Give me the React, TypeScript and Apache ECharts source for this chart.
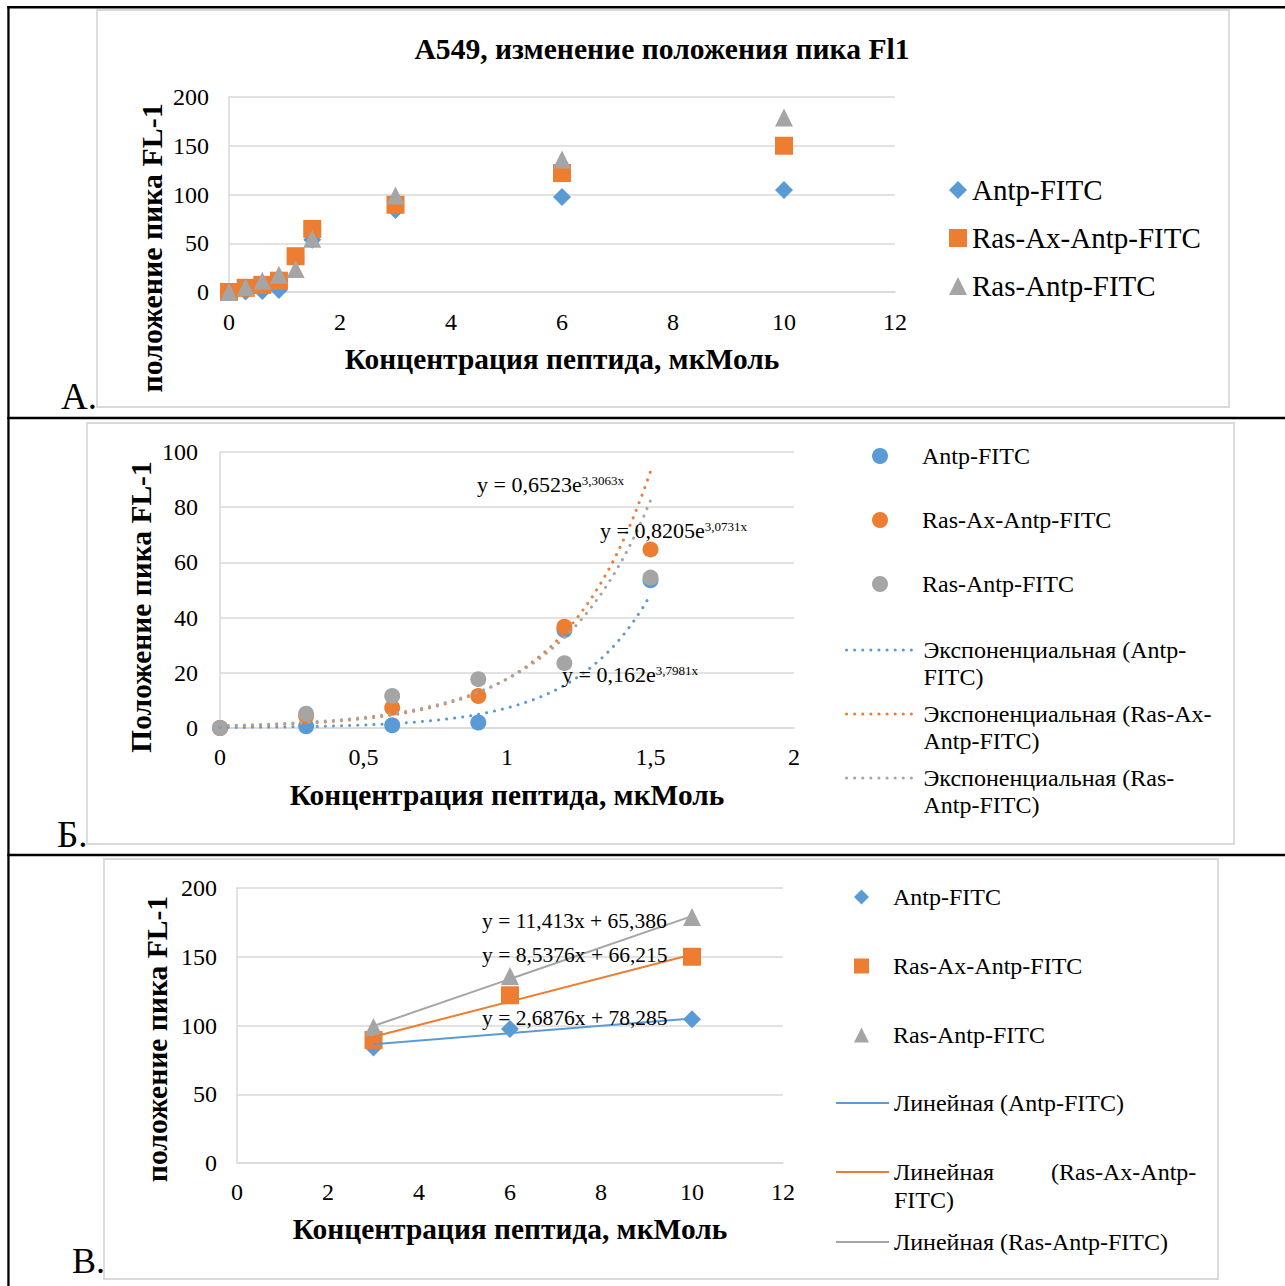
import React, { useEffect, useRef } from 'react';
import * as echarts from 'echarts';

const FONT = '"Liberation Serif", "Times New Roman", serif';
const BLUE = '#5b9bd5';
const ORANGE = '#ed7d31';
const GRAY = '#a5a5a5';
const GRID = '#d9d9d9';

// ---------- data ----------
const seriesNames = ['Antp-FITC', 'Ras-Ax-Antp-FITC', 'Ras-Antp-FITC'];
const concentration = [0, 0.3, 0.6, 0.9, 1.2, 1.5, 3, 6, 10];
const antpFitc = [0, 0.6, 1, 2, 35.5, 53.5, 84, 97.5, 104.5];
const rasAxAntpFitc = [0, 4.3, 7.3, 11.6, 36.7, 64.7, 89.5, 122, 150];
const rasAntpFitc = [0, 5.2, 11.6, 17.7, 23.5, 54.5, 99, 136, 179];

// exponential trendlines (panel Б): y = a * e^(b x)
const expA = [0.162, 0.6523, 0.8205];
const expB = [3.7981, 3.3063, 3.0731];
const expMain = ['y = 0,162e', 'y = 0,6523e', 'y = 0,8205e'];
const expSup = ['3,7981x', '3,3063x', '3,0731x'];
const expNames = ['Экспоненциальная (Antp-FITC)', 'Экспоненциальная (Ras-Ax-Antp-FITC)', 'Экспоненциальная (Ras-Antp-FITC)'];
const expLegendLines = [
  ['Экспоненциальная (Antp-', 'FITC)'],
  ['Экспоненциальная (Ras-Ax-', 'Antp-FITC)'],
  ['Экспоненциальная (Ras-', 'Antp-FITC)'],
];

// linear trendlines (panel В): y = k x + c
const linSlope = [2.6876, 8.5376, 11.413];
const linIntercept = [78.285, 66.215, 65.386];
const linText = ['y = 2,6876x + 78,285', 'y = 8,5376x + 66,215', 'y = 11,413x + 65,386'];
const linNames = ['Линейная (Antp-FITC)', 'Линейная (Ras-Ax-Antp-FITC)', 'Линейная (Ras-Antp-FITC)'];

const colors = [BLUE, ORANGE, GRAY];
const values = [antpFitc, rasAxAntpFitc, rasAntpFitc];

// ---------- helpers ----------
const pairs = (xs: number[], ys: number[]) => xs.map((x, i) => [x, ys[i]]);

function xAx(min: number, max: number, interval: number, margin: number, formatter?: any) {
  const ax: any = {
    type: 'value', min, max, interval,
    axisLine: { show: true, onZero: false, lineStyle: { color: GRID, width: 1.5 } },
    axisTick: { show: false },
    splitLine: { show: false },
    axisLabel: { color: '#000', fontFamily: FONT, fontSize: 24, margin },
  };
  if (formatter) ax.axisLabel.formatter = formatter;
  return ax;
}
function yAx(min: number, max: number, interval: number, margin: number) {
  return {
    type: 'value', min, max, interval,
    axisLine: { show: true, lineStyle: { color: GRID, width: 1.5 } },
    axisTick: { show: false },
    splitLine: { show: true, lineStyle: { color: GRID, width: 1.5 } },
    axisLabel: { color: '#000', fontFamily: FONT, fontSize: 24, margin },
  };
}
function txt(x: number, y: number, text: string, fontSize: number, o: any = {}) {
  return {
    type: 'text', x, y, rotation: o.rotation || 0, silent: true, z: 10,
    style: {
      text, fontSize, fontFamily: FONT, fontWeight: o.bold ? 'bold' : 'normal', fill: '#000',
      align: o.align || 'center', verticalAlign: 'middle',
    },
  };
}
function box(x: number, y: number, w: number, h: number) {
  return { type: 'rect', silent: true, z: -1, shape: { x, y, width: w, height: h }, style: { fill: 'none', stroke: GRID, lineWidth: 1.8 } };
}
function bar(x: number, y: number, w: number, h: number) {
  return { type: 'rect', silent: true, shape: { x, y, width: w, height: h }, style: { fill: '#000' } };
}
function eq(x: number, y: number, main: string, sup: string | null, fs: number) {
  return {
    type: 'text', x, y, silent: true, z: 10,
    style: {
      text: sup ? `{m|${main}}{s|${sup}}` : `{m|${main}}`,
      align: 'left', verticalAlign: 'middle',
      rich: {
        m: { fontSize: fs, fontFamily: FONT, fill: '#000', lineHeight: fs },
        s: { fontSize: 13, fontFamily: FONT, fill: '#000', lineHeight: 13, verticalAlign: 'top' },
      },
    },
  };
}
function leg(name: string, left: number, top: number, W: number, H: number, fontSize: number, lineHeight: number, extra: any = {}) {
  const l: any = {
    data: [name], left, top, orient: 'vertical', itemWidth: W, itemHeight: H, padding: 0,
    selectedMode: false,
    textStyle: { fontFamily: FONT, fontSize, color: '#000', lineHeight, ...(extra.textStyle || {}) },
  };
  if (extra.itemStyle) l.itemStyle = extra.itemStyle;
  if (extra.lineStyle) l.lineStyle = extra.lineStyle;
  if (extra.formatter) l.formatter = extra.formatter;
  return l;
}
const hideSymbol = { opacity: 0, borderWidth: 0 };

// ---------- panel A ----------
const symbolsA = ['diamond', 'rect', 'triangle'];
const optionA: any = {
  animation: false,
  grid: { left: 229, top: 97, width: 666, height: 195 },
  xAxis: xAx(0, 12, 2, 18),
  yAxis: yAx(0, 200, 50, 20),
  legend: seriesNames.map((n, i) => leg(n, 949, [175, 223, 271][i], 18, 18, 29, 30)),
  series: seriesNames.map((n, i) => ({
    name: n, type: 'scatter', symbol: symbolsA[i], symbolSize: 18,
    itemStyle: { color: colors[i], opacity: 1 }, data: pairs(concentration, values[i]), silent: true,
  })),
  graphic: [
    box(97, 10, 1132, 397),
    bar(7.3, 6, 1278, 2.5),
    bar(7.3, 6, 2.3, 414),
    bar(7.3, 416.7, 1278, 2.6),
    txt(662, 49, 'A549, изменение положения пика Fl1', 29.6, { bold: true }),
    txt(151, 248, 'положение пика FL-1', 29.9, { bold: true, rotation: Math.PI / 2 }),
    txt(562, 359, 'Концентрация пептида, мкМоль', 29.4, { bold: true }),
    txt(61, 396, 'A.', 37, { align: 'left' }),
  ],
};

// ---------- panel Б ----------
const concB = concentration.slice(0, 6);
const curveX = Array.from({ length: 61 }, (_, i) => i * 0.025);
const richB = { t: { fontFamily: FONT, fontSize: 24, color: '#000', lineHeight: 27 } };
const dotted = { width: 3, type: [0.1, 8], cap: 'round' };
const optionB: any = {
  animation: false,
  grid: { left: 220, top: 32, width: 574, height: 276 },
  xAxis: xAx(0, 2, 0.5, 17, (v: number) => String(v).replace('.', ',')),
  yAxis: yAx(0, 100, 20, 22),
  legend: [
    ...seriesNames.map((n, i) => leg(n, 872, [22.5, 86.5, 150.5][i], 16, 16, 24, 27, {
      textStyle: { padding: [0, 0, 0, 29] },
    })),
    ...expNames.map((n, i) => leg(n, 845, [189.5, 253.5, 317.5][i], 72, 16, 24, 27, {
      itemStyle: hideSymbol,
      lineStyle: { ...dotted, color: colors[i] },
      formatter: () => `{t|${expLegendLines[i][0]}}\n{t|${expLegendLines[i][1]}}`,
      textStyle: { padding: [27, 0, 0, 0], rich: richB },
    })),
  ],
  series: [
    ...seriesNames.map((n, i) => ({
      name: n, type: 'scatter', symbol: 'circle', symbolSize: 16, silent: true,
      itemStyle: { color: colors[i], opacity: 1 }, data: pairs(concB, values[i].slice(0, 6)),
    })),
    ...expNames.map((n, i) => ({
      name: n, type: 'line', symbol: 'none', silent: true, z: 3,
      lineStyle: { ...dotted, color: colors[i] },
      itemStyle: { color: colors[i] },
      data: curveX.map((x) => [x, expA[i] * Math.exp(expB[i] * x)]),
    })),
  ],
  graphic: [
    box(87, 3, 1147, 421),
    bar(7.3, 0, 2.3, 437),
    bar(7.3, 433.7, 1278, 2.6),
    txt(141, 187, 'Положение пика FL-1', 29.5, { bold: true, rotation: Math.PI / 2 }),
    txt(507, 375, 'Концентрация пептида, мкМоль', 29.4, { bold: true }),
    txt(57, 414, 'Б.', 37, { align: 'left' }),
    eq(477, 64.5, expMain[1], expSup[1], 22),
    eq(600, 110.5, expMain[2], expSup[2], 22),
    eq(562, 254.5, expMain[0], expSup[0], 22),
  ],
};

// ---------- panel В ----------
const concC = concentration.slice(6);
const symbolsC = ['diamond', 'rect', 'triangle'];
const linRange = [3, 10];
const optionC: any = {
  animation: false,
  grid: { left: 237, top: 31, width: 546, height: 275 },
  xAxis: xAx(0, 12, 2, 17),
  yAxis: yAx(0, 200, 50, 20),
  legend: [
    ...seriesNames.map((n, i) => leg(n, 854, [26, 95, 164][i], 15, 15, 24, 28, { textStyle: { padding: [0, 0, 0, 19] } })),
    leg(linNames[0], 835, 232, 53, 15, 24, 28, { itemStyle: hideSymbol, lineStyle: { width: 2, color: colors[0] } }),
    leg(linNames[1], 835, 273, 53, 15, 24, 28, {
      itemStyle: hideSymbol,
      lineStyle: { width: 2, color: colors[1] },
      formatter: () => '{w|Линейная}(Ras-Ax-Antp-\nFITC)',
      textStyle: { padding: [28, 0, 0, 0], rich: { w: { width: 157, fontSize: 24, fontFamily: FONT, color: '#000', lineHeight: 28 } } },
    }),
    leg(linNames[2], 835, 371, 53, 15, 24, 28, { itemStyle: hideSymbol, lineStyle: { width: 2, color: colors[2] } }),
  ],
  series: [
    ...seriesNames.map((n, i) => ({
      name: n, type: 'scatter', symbol: symbolsC[i], symbolSize: 18, silent: true,
      itemStyle: { color: colors[i], opacity: 1 }, data: pairs(concC, values[i].slice(6)),
    })),
    ...linNames.map((n, i) => ({
      name: n, type: 'line', symbol: 'none', silent: true, z: 3,
      lineStyle: { color: colors[i], width: 2 }, itemStyle: { color: colors[i] },
      data: linRange.map((x) => [x, linSlope[i] * x + linIntercept[i]]),
    })),
  ],
  graphic: [
    box(104, 2, 1114, 420),
    bar(7.3, 0, 2.3, 429),
    txt(157, 182, 'положение пика FL-1', 29.6, { bold: true, rotation: Math.PI / 2 }),
    txt(510, 372, 'Концентрация пептида, мкМоль', 29.4, { bold: true }),
    txt(72, 404, 'В.', 36, { align: 'left' }),
    eq(482, 64, linText[2], null, 21.5),
    eq(482, 98, linText[1], null, 21.5),
    eq(482, 161, linText[0], null, 21.5),
  ],
};

function Panel({ option, top, height }: { option: any; top: number; height: number }) {
  const ref = useRef<HTMLDivElement>(null);
  useEffect(() => {
    const chart = echarts.init(ref.current!, null, { renderer: 'svg' });
    chart.setOption(option);
    return () => chart.dispose();
  }, [option]);
  return <div ref={ref} style={{ position: 'absolute', left: 0, top, width: 1285, height }} />;
}

export default function App() {
  useEffect(() => {
    document.body.style.margin = '0';
    document.body.style.overflow = 'hidden';
  }, []);
  return (
    <div style={{ position: 'absolute', left: 0, top: 0, width: 1285, height: 1286, background: '#fff' }}>
      <Panel option={optionA} top={0} height={420} />
      <Panel option={optionB} top={420} height={437} />
      <Panel option={optionC} top={857} height={429} />
    </div>
  );
}
